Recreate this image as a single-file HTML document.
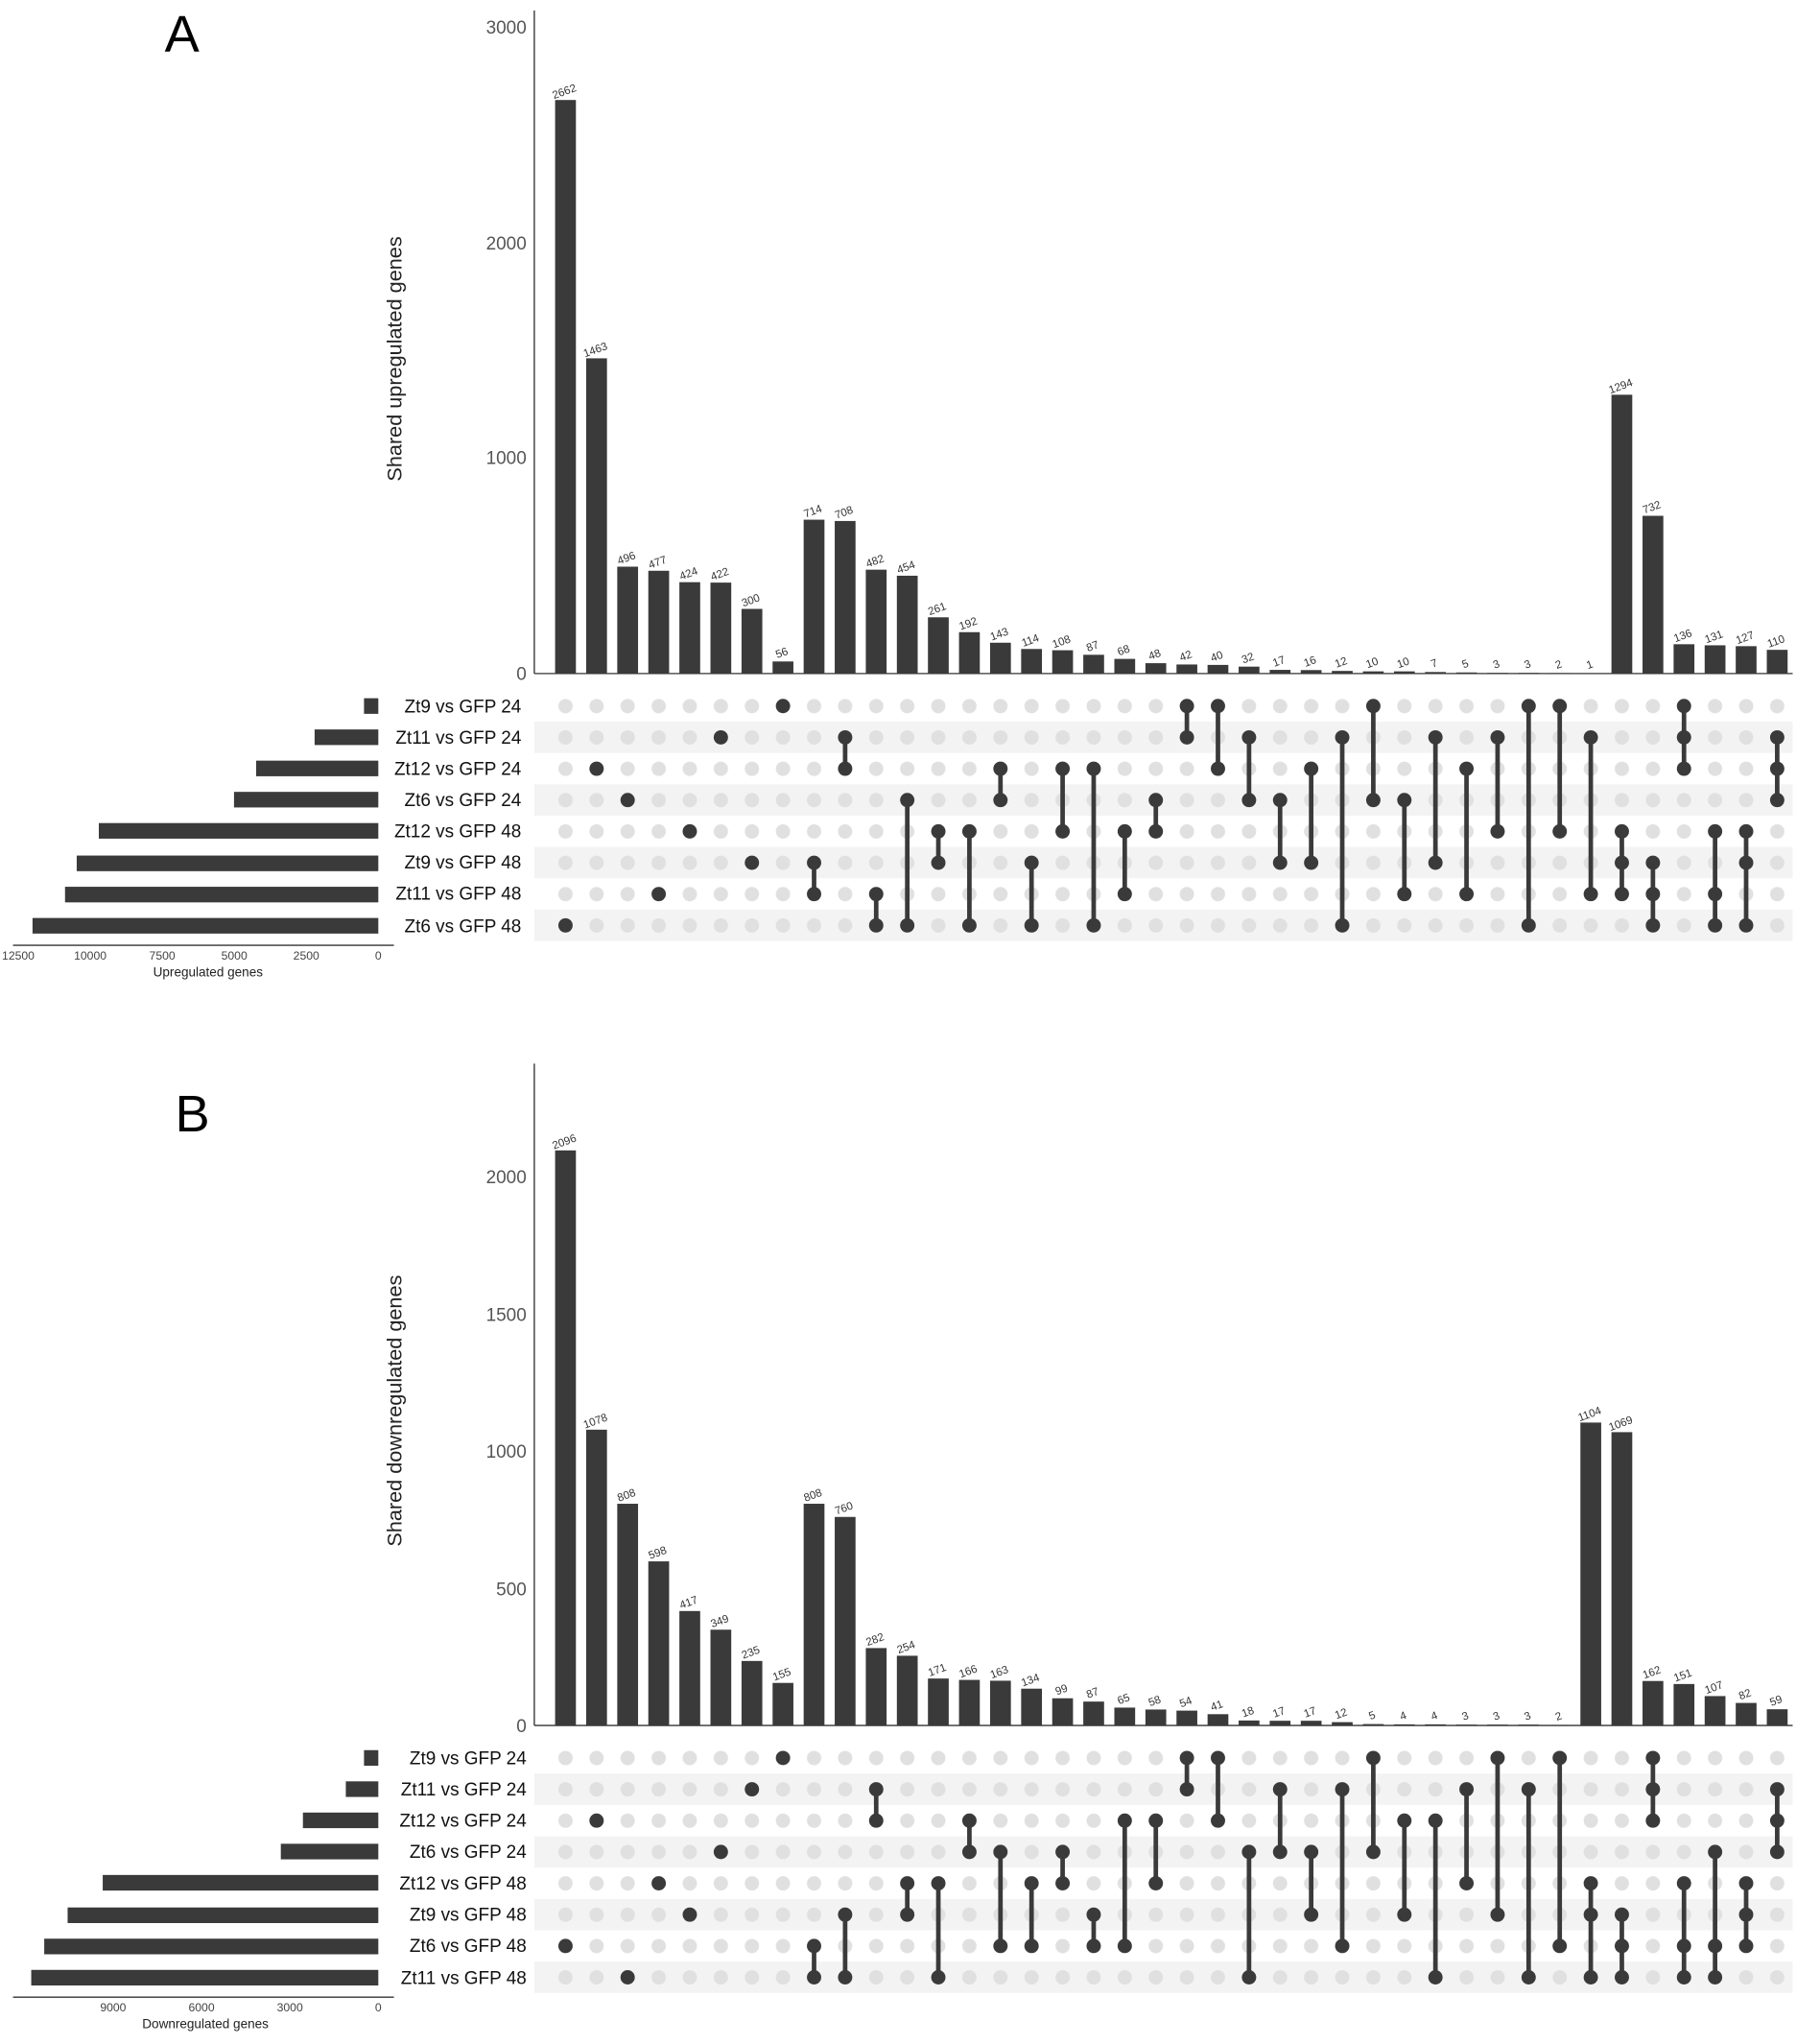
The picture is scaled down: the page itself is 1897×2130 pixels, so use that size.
<!DOCTYPE html>
<html><head><meta charset="utf-8"><style>html,body{margin:0;padding:0;background:#fff}svg{display:block}</style></head><body>
<svg width="1897" height="2130" viewBox="0 0 1400 1572" xmlns="http://www.w3.org/2000/svg" font-family="Liberation Sans, sans-serif">
<defs>
<pattern id="pa" x="423.05" y="531" width="23.9" height="24.1" patternUnits="userSpaceOnUse"><circle cx="11.95" cy="12.05" r="5.5" fill="#e0e0e0"/></pattern>
<pattern id="pb" x="423.05" y="1340" width="23.9" height="24.1" patternUnits="userSpaceOnUse"><circle cx="11.95" cy="12.05" r="5.5" fill="#e0e0e0"/></pattern>
</defs>
<text x="140" y="40" font-size="40" text-anchor="middle">A</text>
<text x="148" y="870" font-size="40" text-anchor="middle">B</text>

<!-- PANEL A -->
<g fill="#f3f3f3"><rect x="411" y="555" width="968" height="24.1"/><rect x="411" y="603.2" width="968" height="24.1"/><rect x="411" y="651.4" width="968" height="24.1"/><rect x="411" y="699.6" width="968" height="24.1"/></g>
<rect x="423" y="531" width="956" height="192.8" fill="url(#pa)"/>
<line x1="411" y1="8" x2="411" y2="518" stroke="#333" stroke-width="1"/>
<line x1="411" y1="518" x2="1379" y2="518" stroke="#333" stroke-width="1"/>
<g font-size="14" fill="#555" text-anchor="end"><text x="405" y="523">0</text><text x="405" y="357">1000</text><text x="405" y="192">2000</text><text x="405" y="26">3000</text></g>
<text transform="translate(309,276) rotate(-90)" font-size="16" text-anchor="middle" fill="#222">Shared upregulated genes</text>
<g transform="translate(0,518) scale(1,-0.1657)" fill="#3a3a3a">
<rect x="427" width="16" height="2662"/><rect x="450.9" width="16" height="1463"/><rect x="474.8" width="16" height="496"/><rect x="498.7" width="16" height="477"/><rect x="522.6" width="16" height="424"/><rect x="546.5" width="16" height="422"/><rect x="570.4" width="16" height="300"/><rect x="594.3" width="16" height="56"/><rect x="618.2" width="16" height="714"/><rect x="642.1" width="16" height="708"/><rect x="666" width="16" height="482"/><rect x="689.9" width="16" height="454"/><rect x="713.8" width="16" height="261"/><rect x="737.7" width="16" height="192"/><rect x="761.6" width="16" height="143"/><rect x="785.5" width="16" height="114"/><rect x="809.4" width="16" height="108"/><rect x="833.3" width="16" height="87"/><rect x="857.2" width="16" height="68"/><rect x="881.1" width="16" height="48"/><rect x="905" width="16" height="42"/><rect x="928.9" width="16" height="40"/><rect x="952.8" width="16" height="32"/><rect x="976.7" width="16" height="17"/><rect x="1000.6" width="16" height="16"/><rect x="1024.5" width="16" height="12"/><rect x="1048.4" width="16" height="10"/><rect x="1072.3" width="16" height="10"/><rect x="1096.2" width="16" height="7"/><rect x="1120.1" width="16" height="5"/><rect x="1144" width="16" height="3"/><rect x="1167.9" width="16" height="3"/><rect x="1191.8" width="16" height="2"/><rect x="1215.7" width="16" height="1"/><rect x="1239.6" width="16" height="1294"/><rect x="1263.5" width="16" height="732"/><rect x="1287.4" width="16" height="136"/><rect x="1311.3" width="16" height="131"/><rect x="1335.2" width="16" height="127"/><rect x="1359.1" width="16" height="110"/>
</g>
<g font-size="8.5" fill="#333" text-anchor="middle">
<text transform="translate(435,73) rotate(-20)">2662</text><text transform="translate(458.9,271.6) rotate(-20)">1463</text><text transform="translate(482.8,431.8) rotate(-20)">496</text><text transform="translate(506.7,435) rotate(-20)">477</text><text transform="translate(530.6,443.7) rotate(-20)">424</text><text transform="translate(554.5,444.1) rotate(-20)">422</text><text transform="translate(578.4,464.3) rotate(-20)">300</text><text transform="translate(602.3,504.7) rotate(-20)">56</text><text transform="translate(626.2,395.7) rotate(-20)">714</text><text transform="translate(650.1,396.7) rotate(-20)">708</text><text transform="translate(674,434.1) rotate(-20)">482</text><text transform="translate(697.9,438.8) rotate(-20)">454</text><text transform="translate(721.8,470.8) rotate(-20)">261</text><text transform="translate(745.7,482.2) rotate(-20)">192</text><text transform="translate(769.6,490.3) rotate(-20)">143</text><text transform="translate(793.5,495.1) rotate(-20)">114</text><text transform="translate(817.4,496.1) rotate(-20)">108</text><text transform="translate(841.3,499.6) rotate(-20)">87</text><text transform="translate(865.2,502.7) rotate(-20)">68</text><text transform="translate(889.1,506) rotate(-20)">48</text><text transform="translate(913,507) rotate(-20)">42</text><text transform="translate(936.9,507.4) rotate(-20)">40</text><text transform="translate(960.8,508.7) rotate(-20)">32</text><text transform="translate(984.7,511.2) rotate(-20)">17</text><text transform="translate(1008.6,511.3) rotate(-20)">16</text><text transform="translate(1032.5,512) rotate(-20)">12</text><text transform="translate(1056.4,512.3) rotate(-20)">10</text><text transform="translate(1080.3,512.3) rotate(-20)">10</text><text transform="translate(1104.2,512.8) rotate(-20)">7</text><text transform="translate(1128.1,513.2) rotate(-20)">5</text><text transform="translate(1152,513.5) rotate(-20)">3</text><text transform="translate(1175.9,513.5) rotate(-20)">3</text><text transform="translate(1199.8,513.7) rotate(-20)">2</text><text transform="translate(1223.7,513.8) rotate(-20)">1</text><text transform="translate(1247.6,299.6) rotate(-20)">1294</text><text transform="translate(1271.5,392.7) rotate(-20)">732</text><text transform="translate(1295.4,491.5) rotate(-20)">136</text><text transform="translate(1319.3,492.3) rotate(-20)">131</text><text transform="translate(1343.2,493) rotate(-20)">127</text><text transform="translate(1367.1,495.8) rotate(-20)">110</text>
</g>
<g stroke="#3a3a3a" stroke-width="3.5">
<line x1="626.2" y1="663.5" x2="626.2" y2="687.6"/><line x1="650.1" y1="567.1" x2="650.1" y2="591.2"/><line x1="674" y1="687.6" x2="674" y2="711.7"/><line x1="697.9" y1="615.3" x2="697.9" y2="711.7"/><line x1="721.8" y1="639.4" x2="721.8" y2="663.5"/><line x1="745.7" y1="639.4" x2="745.7" y2="711.7"/><line x1="769.6" y1="591.2" x2="769.6" y2="615.3"/><line x1="793.5" y1="663.5" x2="793.5" y2="711.7"/><line x1="817.4" y1="591.2" x2="817.4" y2="639.4"/><line x1="841.3" y1="591.2" x2="841.3" y2="711.7"/><line x1="865.2" y1="639.4" x2="865.2" y2="687.6"/><line x1="889.1" y1="615.3" x2="889.1" y2="639.4"/><line x1="913" y1="543" x2="913" y2="567.1"/><line x1="936.9" y1="543" x2="936.9" y2="591.2"/><line x1="960.8" y1="567.1" x2="960.8" y2="615.3"/><line x1="984.7" y1="615.3" x2="984.7" y2="663.5"/><line x1="1008.6" y1="591.2" x2="1008.6" y2="663.5"/><line x1="1032.5" y1="567.1" x2="1032.5" y2="711.7"/><line x1="1056.4" y1="543" x2="1056.4" y2="615.3"/><line x1="1080.3" y1="615.3" x2="1080.3" y2="687.6"/><line x1="1104.2" y1="567.1" x2="1104.2" y2="663.5"/><line x1="1128.1" y1="591.2" x2="1128.1" y2="687.6"/><line x1="1152" y1="567.1" x2="1152" y2="639.4"/><line x1="1175.9" y1="543" x2="1175.9" y2="711.7"/><line x1="1199.8" y1="543" x2="1199.8" y2="639.4"/><line x1="1223.7" y1="567.1" x2="1223.7" y2="687.6"/><line x1="1247.6" y1="639.4" x2="1247.6" y2="687.6"/><line x1="1271.5" y1="663.5" x2="1271.5" y2="711.7"/><line x1="1295.4" y1="543" x2="1295.4" y2="591.2"/><line x1="1319.3" y1="639.4" x2="1319.3" y2="711.7"/><line x1="1343.2" y1="639.4" x2="1343.2" y2="711.7"/><line x1="1367.1" y1="567.1" x2="1367.1" y2="615.3"/>
</g>
<g fill="#3a3a3a">
<circle cx="435" cy="711.7" r="5.5"/><circle cx="458.9" cy="591.2" r="5.5"/><circle cx="482.8" cy="615.3" r="5.5"/><circle cx="506.7" cy="687.6" r="5.5"/><circle cx="530.6" cy="639.4" r="5.5"/><circle cx="554.5" cy="567.1" r="5.5"/><circle cx="578.4" cy="663.5" r="5.5"/><circle cx="602.3" cy="543" r="5.5"/>
<circle cx="626.2" cy="663.5" r="5.5"/><circle cx="626.2" cy="687.6" r="5.5"/><circle cx="650.1" cy="567.1" r="5.5"/><circle cx="650.1" cy="591.2" r="5.5"/><circle cx="674" cy="687.6" r="5.5"/><circle cx="674" cy="711.7" r="5.5"/><circle cx="697.9" cy="615.3" r="5.5"/><circle cx="697.9" cy="711.7" r="5.5"/><circle cx="721.8" cy="639.4" r="5.5"/><circle cx="721.8" cy="663.5" r="5.5"/><circle cx="745.7" cy="639.4" r="5.5"/><circle cx="745.7" cy="711.7" r="5.5"/><circle cx="769.6" cy="591.2" r="5.5"/><circle cx="769.6" cy="615.3" r="5.5"/><circle cx="793.5" cy="663.5" r="5.5"/><circle cx="793.5" cy="711.7" r="5.5"/><circle cx="817.4" cy="591.2" r="5.5"/><circle cx="817.4" cy="639.4" r="5.5"/><circle cx="841.3" cy="591.2" r="5.5"/><circle cx="841.3" cy="711.7" r="5.5"/><circle cx="865.2" cy="639.4" r="5.5"/><circle cx="865.2" cy="687.6" r="5.5"/><circle cx="889.1" cy="615.3" r="5.5"/><circle cx="889.1" cy="639.4" r="5.5"/><circle cx="913" cy="543" r="5.5"/><circle cx="913" cy="567.1" r="5.5"/><circle cx="936.9" cy="543" r="5.5"/><circle cx="936.9" cy="591.2" r="5.5"/><circle cx="960.8" cy="567.1" r="5.5"/><circle cx="960.8" cy="615.3" r="5.5"/><circle cx="984.7" cy="615.3" r="5.5"/><circle cx="984.7" cy="663.5" r="5.5"/><circle cx="1008.6" cy="591.2" r="5.5"/><circle cx="1008.6" cy="663.5" r="5.5"/><circle cx="1032.5" cy="567.1" r="5.5"/><circle cx="1032.5" cy="711.7" r="5.5"/><circle cx="1056.4" cy="543" r="5.5"/><circle cx="1056.4" cy="615.3" r="5.5"/><circle cx="1080.3" cy="615.3" r="5.5"/><circle cx="1080.3" cy="687.6" r="5.5"/><circle cx="1104.2" cy="567.1" r="5.5"/><circle cx="1104.2" cy="663.5" r="5.5"/><circle cx="1128.1" cy="591.2" r="5.5"/><circle cx="1128.1" cy="687.6" r="5.5"/><circle cx="1152" cy="567.1" r="5.5"/><circle cx="1152" cy="639.4" r="5.5"/><circle cx="1175.9" cy="543" r="5.5"/><circle cx="1175.9" cy="711.7" r="5.5"/><circle cx="1199.8" cy="543" r="5.5"/><circle cx="1199.8" cy="639.4" r="5.5"/><circle cx="1223.7" cy="567.1" r="5.5"/><circle cx="1223.7" cy="687.6" r="5.5"/>
<circle cx="1247.6" cy="639.4" r="5.5"/><circle cx="1247.6" cy="663.5" r="5.5"/><circle cx="1247.6" cy="687.6" r="5.5"/><circle cx="1271.5" cy="663.5" r="5.5"/><circle cx="1271.5" cy="687.6" r="5.5"/><circle cx="1271.5" cy="711.7" r="5.5"/><circle cx="1295.4" cy="543" r="5.5"/><circle cx="1295.4" cy="567.1" r="5.5"/><circle cx="1295.4" cy="591.2" r="5.5"/><circle cx="1319.3" cy="639.4" r="5.5"/><circle cx="1319.3" cy="687.6" r="5.5"/><circle cx="1319.3" cy="711.7" r="5.5"/><circle cx="1343.2" cy="639.4" r="5.5"/><circle cx="1343.2" cy="663.5" r="5.5"/><circle cx="1343.2" cy="711.7" r="5.5"/><circle cx="1367.1" cy="567.1" r="5.5"/><circle cx="1367.1" cy="591.2" r="5.5"/><circle cx="1367.1" cy="615.3" r="5.5"/>
</g>
<g font-size="14" fill="#111" text-anchor="end">
<text x="401" y="548">Zt9 vs GFP 24</text><text x="401" y="572">Zt11 vs GFP 24</text><text x="401" y="596">Zt12 vs GFP 24</text><text x="401" y="620">Zt6 vs GFP 24</text><text x="401" y="644">Zt12 vs GFP 48</text><text x="401" y="668">Zt9 vs GFP 48</text><text x="401" y="692">Zt11 vs GFP 48</text><text x="401" y="717">Zt6 vs GFP 48</text>
</g>
<g fill="#3a3a3a">
<rect x="280" y="537" width="11" height="12"/><rect x="242" y="561" width="49" height="12"/><rect x="197" y="585" width="94" height="12"/><rect x="180" y="609" width="111" height="12"/><rect x="76" y="633" width="215" height="12"/><rect x="59" y="658" width="232" height="12"/><rect x="50" y="682" width="241" height="12"/><rect x="25" y="706" width="266" height="12"/>
</g>
<line x1="10" y1="727" x2="303" y2="727" stroke="#333" stroke-width="1"/>
<g font-size="9" fill="#444" text-anchor="middle"><text x="14" y="738">12500</text><text x="69.4" y="738">10000</text><text x="124.8" y="738">7500</text><text x="180.2" y="738">5000</text><text x="235.6" y="738">2500</text><text x="291" y="738">0</text></g>
<text x="160" y="751" font-size="10" text-anchor="middle" fill="#222">Upregulated genes</text>

<!-- PANEL B -->
<g fill="#f3f3f3"><rect x="411" y="1364" width="968" height="24.1"/><rect x="411" y="1412.2" width="968" height="24.1"/><rect x="411" y="1460.4" width="968" height="24.1"/><rect x="411" y="1508.6" width="968" height="24.1"/></g>
<rect x="423" y="1340" width="956" height="192.8" fill="url(#pb)"/>
<line x1="411" y1="818" x2="411" y2="1327" stroke="#333" stroke-width="1"/>
<line x1="411" y1="1327" x2="1379" y2="1327" stroke="#333" stroke-width="1"/>
<g font-size="14" fill="#555" text-anchor="end"><text x="405" y="1332">0</text><text x="405" y="1227">500</text><text x="405" y="1121">1000</text><text x="405" y="1016">1500</text><text x="405" y="910">2000</text></g>
<text transform="translate(309,1085) rotate(-90)" font-size="16" text-anchor="middle" fill="#222">Shared downregulated genes</text>
<g transform="translate(0,1327) scale(1,-0.211)" fill="#3a3a3a">
<rect x="427" width="16" height="2096"/><rect x="450.9" width="16" height="1078"/><rect x="474.8" width="16" height="808"/><rect x="498.7" width="16" height="598"/><rect x="522.6" width="16" height="417"/><rect x="546.5" width="16" height="349"/><rect x="570.4" width="16" height="235"/><rect x="594.3" width="16" height="155"/><rect x="618.2" width="16" height="808"/><rect x="642.1" width="16" height="760"/><rect x="666" width="16" height="282"/><rect x="689.9" width="16" height="254"/><rect x="713.8" width="16" height="171"/><rect x="737.7" width="16" height="166"/><rect x="761.6" width="16" height="163"/><rect x="785.5" width="16" height="134"/><rect x="809.4" width="16" height="99"/><rect x="833.3" width="16" height="87"/><rect x="857.2" width="16" height="65"/><rect x="881.1" width="16" height="58"/><rect x="905" width="16" height="54"/><rect x="928.9" width="16" height="41"/><rect x="952.8" width="16" height="18"/><rect x="976.7" width="16" height="17"/><rect x="1000.6" width="16" height="17"/><rect x="1024.5" width="16" height="12"/><rect x="1048.4" width="16" height="5"/><rect x="1072.3" width="16" height="4"/><rect x="1096.2" width="16" height="4"/><rect x="1120.1" width="16" height="3"/><rect x="1144" width="16" height="3"/><rect x="1167.9" width="16" height="3"/><rect x="1191.8" width="16" height="2"/><rect x="1215.7" width="16" height="1104"/><rect x="1239.6" width="16" height="1069"/><rect x="1263.5" width="16" height="162"/><rect x="1287.4" width="16" height="151"/><rect x="1311.3" width="16" height="107"/><rect x="1335.2" width="16" height="82"/><rect x="1359.1" width="16" height="59"/>
</g>
<g font-size="8.5" fill="#333" text-anchor="middle">
<text transform="translate(435,880.7) rotate(-20)">2096</text><text transform="translate(458.9,1095.5) rotate(-20)">1078</text><text transform="translate(482.8,1152.5) rotate(-20)">808</text><text transform="translate(506.7,1196.8) rotate(-20)">598</text><text transform="translate(530.6,1235) rotate(-20)">417</text><text transform="translate(554.5,1249.4) rotate(-20)">349</text><text transform="translate(578.4,1273.4) rotate(-20)">235</text><text transform="translate(602.3,1290.3) rotate(-20)">155</text><text transform="translate(626.2,1152.5) rotate(-20)">808</text><text transform="translate(650.1,1162.6) rotate(-20)">760</text><text transform="translate(674,1263.5) rotate(-20)">282</text><text transform="translate(697.9,1269.4) rotate(-20)">254</text><text transform="translate(721.8,1286.9) rotate(-20)">171</text><text transform="translate(745.7,1288) rotate(-20)">166</text><text transform="translate(769.6,1288.6) rotate(-20)">163</text><text transform="translate(793.5,1294.7) rotate(-20)">134</text><text transform="translate(817.4,1302.1) rotate(-20)">99</text><text transform="translate(841.3,1304.6) rotate(-20)">87</text><text transform="translate(865.2,1309.3) rotate(-20)">65</text><text transform="translate(889.1,1310.8) rotate(-20)">58</text><text transform="translate(913,1311.6) rotate(-20)">54</text><text transform="translate(936.9,1314.3) rotate(-20)">41</text><text transform="translate(960.8,1319.2) rotate(-20)">18</text><text transform="translate(984.7,1319.4) rotate(-20)">17</text><text transform="translate(1008.6,1319.4) rotate(-20)">17</text><text transform="translate(1032.5,1320.5) rotate(-20)">12</text><text transform="translate(1056.4,1321.9) rotate(-20)">5</text><text transform="translate(1080.3,1322.2) rotate(-20)">4</text><text transform="translate(1104.2,1322.2) rotate(-20)">4</text><text transform="translate(1128.1,1322.4) rotate(-20)">3</text><text transform="translate(1152,1322.4) rotate(-20)">3</text><text transform="translate(1175.9,1322.4) rotate(-20)">3</text><text transform="translate(1199.8,1322.6) rotate(-20)">2</text><text transform="translate(1223.7,1090.1) rotate(-20)">1104</text><text transform="translate(1247.6,1097.4) rotate(-20)">1069</text><text transform="translate(1271.5,1288.8) rotate(-20)">162</text><text transform="translate(1295.4,1291.1) rotate(-20)">151</text><text transform="translate(1319.3,1300.4) rotate(-20)">107</text><text transform="translate(1343.2,1305.7) rotate(-20)">82</text><text transform="translate(1367.1,1310.6) rotate(-20)">59</text>
</g>
<g stroke="#3a3a3a" stroke-width="3.5">
<line x1="626.2" y1="1496.6" x2="626.2" y2="1520.7"/><line x1="650.1" y1="1472.5" x2="650.1" y2="1520.7"/><line x1="674" y1="1376.1" x2="674" y2="1400.2"/><line x1="697.9" y1="1448.4" x2="697.9" y2="1472.5"/><line x1="721.8" y1="1448.4" x2="721.8" y2="1520.7"/><line x1="745.7" y1="1400.2" x2="745.7" y2="1424.3"/><line x1="769.6" y1="1424.3" x2="769.6" y2="1496.6"/><line x1="793.5" y1="1448.4" x2="793.5" y2="1496.6"/><line x1="817.4" y1="1424.3" x2="817.4" y2="1448.4"/><line x1="841.3" y1="1472.5" x2="841.3" y2="1496.6"/><line x1="865.2" y1="1400.2" x2="865.2" y2="1496.6"/><line x1="889.1" y1="1400.2" x2="889.1" y2="1448.4"/><line x1="913" y1="1352" x2="913" y2="1376.1"/><line x1="936.9" y1="1352" x2="936.9" y2="1400.2"/><line x1="960.8" y1="1424.3" x2="960.8" y2="1520.7"/><line x1="984.7" y1="1376.1" x2="984.7" y2="1424.3"/><line x1="1008.6" y1="1424.3" x2="1008.6" y2="1472.5"/><line x1="1032.5" y1="1376.1" x2="1032.5" y2="1496.6"/><line x1="1056.4" y1="1352" x2="1056.4" y2="1424.3"/><line x1="1080.3" y1="1400.2" x2="1080.3" y2="1472.5"/><line x1="1104.2" y1="1400.2" x2="1104.2" y2="1520.7"/><line x1="1128.1" y1="1376.1" x2="1128.1" y2="1448.4"/><line x1="1152" y1="1352" x2="1152" y2="1472.5"/><line x1="1175.9" y1="1376.1" x2="1175.9" y2="1520.7"/><line x1="1199.8" y1="1352" x2="1199.8" y2="1496.6"/><line x1="1223.7" y1="1448.4" x2="1223.7" y2="1520.7"/><line x1="1247.6" y1="1472.5" x2="1247.6" y2="1520.7"/><line x1="1271.5" y1="1352" x2="1271.5" y2="1400.2"/><line x1="1295.4" y1="1448.4" x2="1295.4" y2="1520.7"/><line x1="1319.3" y1="1424.3" x2="1319.3" y2="1520.7"/><line x1="1343.2" y1="1448.4" x2="1343.2" y2="1496.6"/><line x1="1367.1" y1="1376.1" x2="1367.1" y2="1424.3"/>
</g>
<g fill="#3a3a3a">
<circle cx="435" cy="1496.6" r="5.5"/><circle cx="458.9" cy="1400.2" r="5.5"/><circle cx="482.8" cy="1520.7" r="5.5"/><circle cx="506.7" cy="1448.4" r="5.5"/><circle cx="530.6" cy="1472.5" r="5.5"/><circle cx="554.5" cy="1424.3" r="5.5"/><circle cx="578.4" cy="1376.1" r="5.5"/><circle cx="602.3" cy="1352" r="5.5"/>
<circle cx="626.2" cy="1496.6" r="5.5"/><circle cx="626.2" cy="1520.7" r="5.5"/><circle cx="650.1" cy="1472.5" r="5.5"/><circle cx="650.1" cy="1520.7" r="5.5"/><circle cx="674" cy="1376.1" r="5.5"/><circle cx="674" cy="1400.2" r="5.5"/><circle cx="697.9" cy="1448.4" r="5.5"/><circle cx="697.9" cy="1472.5" r="5.5"/><circle cx="721.8" cy="1448.4" r="5.5"/><circle cx="721.8" cy="1520.7" r="5.5"/><circle cx="745.7" cy="1400.2" r="5.5"/><circle cx="745.7" cy="1424.3" r="5.5"/><circle cx="769.6" cy="1424.3" r="5.5"/><circle cx="769.6" cy="1496.6" r="5.5"/><circle cx="793.5" cy="1448.4" r="5.5"/><circle cx="793.5" cy="1496.6" r="5.5"/><circle cx="817.4" cy="1424.3" r="5.5"/><circle cx="817.4" cy="1448.4" r="5.5"/><circle cx="841.3" cy="1472.5" r="5.5"/><circle cx="841.3" cy="1496.6" r="5.5"/><circle cx="865.2" cy="1400.2" r="5.5"/><circle cx="865.2" cy="1496.6" r="5.5"/><circle cx="889.1" cy="1400.2" r="5.5"/><circle cx="889.1" cy="1448.4" r="5.5"/><circle cx="913" cy="1352" r="5.5"/><circle cx="913" cy="1376.1" r="5.5"/><circle cx="936.9" cy="1352" r="5.5"/><circle cx="936.9" cy="1400.2" r="5.5"/><circle cx="960.8" cy="1424.3" r="5.5"/><circle cx="960.8" cy="1520.7" r="5.5"/><circle cx="984.7" cy="1376.1" r="5.5"/><circle cx="984.7" cy="1424.3" r="5.5"/><circle cx="1008.6" cy="1424.3" r="5.5"/><circle cx="1008.6" cy="1472.5" r="5.5"/><circle cx="1032.5" cy="1376.1" r="5.5"/><circle cx="1032.5" cy="1496.6" r="5.5"/><circle cx="1056.4" cy="1352" r="5.5"/><circle cx="1056.4" cy="1424.3" r="5.5"/><circle cx="1080.3" cy="1400.2" r="5.5"/><circle cx="1080.3" cy="1472.5" r="5.5"/><circle cx="1104.2" cy="1400.2" r="5.5"/><circle cx="1104.2" cy="1520.7" r="5.5"/><circle cx="1128.1" cy="1376.1" r="5.5"/><circle cx="1128.1" cy="1448.4" r="5.5"/><circle cx="1152" cy="1352" r="5.5"/><circle cx="1152" cy="1472.5" r="5.5"/><circle cx="1175.9" cy="1376.1" r="5.5"/><circle cx="1175.9" cy="1520.7" r="5.5"/><circle cx="1199.8" cy="1352" r="5.5"/><circle cx="1199.8" cy="1496.6" r="5.5"/>
<circle cx="1223.7" cy="1448.4" r="5.5"/><circle cx="1223.7" cy="1472.5" r="5.5"/><circle cx="1223.7" cy="1520.7" r="5.5"/><circle cx="1247.6" cy="1472.5" r="5.5"/><circle cx="1247.6" cy="1496.6" r="5.5"/><circle cx="1247.6" cy="1520.7" r="5.5"/><circle cx="1271.5" cy="1352" r="5.5"/><circle cx="1271.5" cy="1376.1" r="5.5"/><circle cx="1271.5" cy="1400.2" r="5.5"/><circle cx="1295.4" cy="1448.4" r="5.5"/><circle cx="1295.4" cy="1496.6" r="5.5"/><circle cx="1295.4" cy="1520.7" r="5.5"/><circle cx="1319.3" cy="1424.3" r="5.5"/><circle cx="1319.3" cy="1496.6" r="5.5"/><circle cx="1319.3" cy="1520.7" r="5.5"/><circle cx="1343.2" cy="1448.4" r="5.5"/><circle cx="1343.2" cy="1472.5" r="5.5"/><circle cx="1343.2" cy="1496.6" r="5.5"/><circle cx="1367.1" cy="1376.1" r="5.5"/><circle cx="1367.1" cy="1400.2" r="5.5"/><circle cx="1367.1" cy="1424.3" r="5.5"/>
</g>
<g font-size="14" fill="#111" text-anchor="end">
<text x="405" y="1357">Zt9 vs GFP 24</text><text x="405" y="1381">Zt11 vs GFP 24</text><text x="405" y="1405">Zt12 vs GFP 24</text><text x="405" y="1429">Zt6 vs GFP 24</text><text x="405" y="1453">Zt12 vs GFP 48</text><text x="405" y="1477">Zt9 vs GFP 48</text><text x="405" y="1501">Zt6 vs GFP 48</text><text x="405" y="1526">Zt11 vs GFP 48</text>
</g>
<g fill="#3a3a3a">
<rect x="280" y="1346" width="11" height="12"/><rect x="266" y="1370" width="25" height="12"/><rect x="233" y="1394" width="58" height="12"/><rect x="216" y="1418" width="75" height="12"/><rect x="79" y="1442" width="212" height="12"/><rect x="52" y="1467" width="239" height="12"/><rect x="34" y="1491" width="257" height="12"/><rect x="24" y="1515" width="267" height="12"/>
</g>
<line x1="10" y1="1536" x2="303" y2="1536" stroke="#333" stroke-width="1"/>
<g font-size="9" fill="#444" text-anchor="middle"><text x="87" y="1547">9000</text><text x="155" y="1547">6000</text><text x="223" y="1547">3000</text><text x="291" y="1547">0</text></g>
<text x="158" y="1560" font-size="10" text-anchor="middle" fill="#222">Downregulated genes</text>
</svg>
</body></html>
